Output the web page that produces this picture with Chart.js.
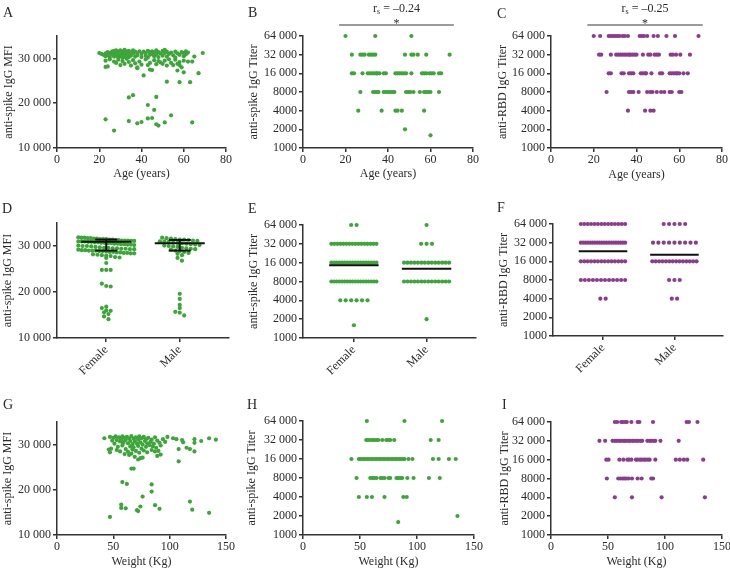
<!DOCTYPE html>
<html>
<head>
<meta charset="utf-8">
<script src="https://cdn.jsdelivr.net/npm/chart.js@4/dist/chart.umd.min.js"></script>
<style>
  body { margin: 0; background: #fff; width: 730px; height: 569px; position: relative; overflow: hidden; }
  canvas { position: absolute; }
</style>
</head>
<body>
<script>
// tick labels / categories
const ageTicks = [0, 20, 40, 60, 80];
const weightTicks = [0, 50, 100, 150];
const mfiTicks = [10000, 20000, 30000];
const titerTicks = [1000, 2000, 4000, 8000, 16000, 32000, 64000];
const sexes = ['Female', 'Male'];
const titerLevels = [64000, 32000, 16000, 8000, 4000, 2000, 1600];

// A: age vs anti-spike IgG MFI  [age, MFI]
const ageMfi = [
  [20,31200],[21,31000],[22,30800],[23,31100],[23,30500],[24,31400],[24,30700],[25,31200],[25,30300],[26,31500],
  [26,30900],[27,31700],[27,31000],[27,30400],[28,31300],[28,31800],[28,30600],[29,31500],[29,30900],[29,30200],
  [30,31800],[30,31100],[30,30500],[31,31600],[31,30800],[31,30100],[32,31900],[32,31200],[32,30400],[33,31500],
  [33,30800],[34,31700],[34,31000],[34,30300],[35,31400],[35,30600],[36,31800],[36,31100],[37,31500],[37,30400],
  [38,31200],[38,30700],[39,31600],[40,31000],[40,30300],[41,31500],[42,31200],[42,30600],[43,31700],[43,30200],
  [44,31400],[44,30800],[45,31600],[45,31000],[46,31300],[46,30500],[47,31800],[47,30900],[48,31400],[48,30300],
  [49,31100],[50,31700],[50,30600],[51,31900],[51,31200],[52,31500],[52,30400],[53,31000],[54,31300],[55,30700],
  [56,31500],[56,30200],[57,31100],[58,30800],[59,31400],[60,31200],[60,30500],[61,31600],[61,30900],[62,31300],
  [65,30400],[69,31200],
  [23,29500],[24,28200],[23,28100],[25,29800],[27,29300],[28,29000],[29,29700],[30,28500],[31,29400],[32,28800],
  [33,29900],[34,29200],[35,28400],[36,29600],[37,28900],[38,28000],[38,27800],[39,29300],[40,28600],[42,29800],
  [43,28500],[44,27500],[45,27400],[44,29000],[46,29600],[47,28700],[48,29400],[49,29100],[50,28800],[51,29500],
  [52,28400],[53,29800],[54,29000],[55,28500],[56,29700],[57,27300],[57,28800],[58,29200],[59,28000],[60,29500],
  [62,29300],[64,29300],[58,28500],
  [41,26200],[60,26900],[67,26700],[52,24800],[58,24700],[63,24700],
  [23,16400],[27,13900],[34,21300],[36,21800],[47,21400],[43,19600],[46,18500],[34,16000],[38,15500],[40,15800],
  [43,16600],[45,16700],[47,15300],[48,15000],[51,15700],[54,17300],[64,15700]
];

// B: age vs anti-spike IgG titer  [titer, ages]
const spikeByAge = [
  [64000, [20, 34, 51]],
  [32000, [23, 27, 28, 29, 31, 32, 33, 34, 48, 51, 52, 54, 58, 69]],
  [16000, [23, 24, 28, 30.5, 31.5, 32.5, 33.5, 34.5, 35, 36, 38, 39, 43.5, 44.5, 45.5, 46.5, 47.5, 48.5, 51, 56, 57, 58, 59.5, 60.5, 61.5, 64, 65]],
  [8000, [27, 33, 34, 35, 35.5, 38, 39, 40, 41, 42, 43, 48.5, 49.5, 50.5, 52, 55, 57, 58, 59, 60, 64]],
  [4000, [26, 37, 43.5, 44.5, 46.5, 57]],
  [2000, [48]],
  [1600, [60]]
];

// C: age vs anti-RBD IgG titer
const rbdByAge = [
  [64000, [20, 23, 27, 28, 29, 30, 31, 32, 33.5, 34.5, 36, 41.5, 42.5, 43.5, 45, 48, 50, 54, 58, 69]],
  [32000, [22.5, 23.5, 28, 30.5, 31.5, 32.5, 33.5, 34.5, 35.5, 36.5, 37, 38, 39, 40, 43, 45.5, 46.5, 48.5, 49.5, 50.5, 56, 57, 58.5, 60.5, 65]],
  [16000, [27, 28, 33, 34, 36.5, 37.5, 38.5, 42, 43, 44, 44.5, 47, 51, 52, 55.5, 56.5, 57.5, 58.5, 59, 60, 62, 64]],
  [8000, [26, 36.5, 37.5, 38.5, 41, 45, 46.5, 47.5, 49.5, 51.5, 53, 55.5, 56.5, 60, 61]],
  [4000, [36, 44, 46.5, 48]]
];

// D: MFI by sex
const mfiFemale = [31900,31800,31800,31700,31700,31600,31600,31500,31500,31500,31400,31400,31300,31300,31200,31200,31200,
  31100,31100,31000,31000,31000,30900,30900,30800,30800,30700,30700,30600,30600,30500,30500,30400,30400,30300,30300,
  30200,30100,30000,30000,29900,29800,29700,29600,29600,29500,29500,29400,29400,29300,29300,29200,29100,29100,29000,
  29000,29000,28900,28900,28800,28700,28700,28600,28600,28500,28500,28400,28400,28200,28100,28000,27900,27800,27600,
  27500,27400,26300,24800,24800,24800,21800,21300,21200,16800,16500,16000,15900,15600,15200,14700,14100];
const mfiMale = [31800,31700,31600,31500,31400,31400,31300,31200,31100,31000,31000,30900,30800,30700,30600,30500,30400,
  30300,30200,30100,30000,29900,29800,29600,29500,29400,29300,29200,29000,28900,28700,28500,28300,28000,27400,26800,
  19600,18500,17200,16500,15700,15500,14900];
const mfiMedian = [30900, 30600];
const mfiQ1 = [29000, 29000];
const mfiQ3 = [31400, 31300];

// E, F: counts per titer level (titerLevels order)
const spikeFemaleCounts = [2, 16, 18, 18, 6, 0, 1];
const spikeMaleCounts = [1, 3, 14, 14, 0, 1, 0];
const spikeMean = [14600, 12800];
const rbdFemaleCounts = [14, 20, 14, 12, 2, 0, 0];
const rbdMaleCounts = [5, 9, 14, 3, 2, 0, 0];
const rbdMean = [23200, 20500];

// G: weight vs MFI  [kg, MFI]
const weightMfi = [
  [42,31400],[47,31700],[49,30900],[50,31500],[51,30200],[52,31800],[53,31000],[54,29500],[55,31600],[56,30700],
  [57,31200],[58,29800],[58,31800],[59,30400],[60,31500],[61,29000],[61,31000],[62,31700],[63,30300],[63,28400],
  [64,31400],[65,29600],[65,30800],[66,31900],[67,30100],[67,28900],[68,31300],[68,29400],[69,30700],[70,31600],
  [70,28600],[71,30200],[72,31100],[72,29700],[73,31800],[73,28200],[74,30500],[75,31400],[75,29100],[76,30000],
  [77,31700],[77,28700],[78,30800],[79,29500],[79,31200],[80,28300],[80,30300],[81,31500],[82,29900],[83,30600],
  [84,28800],[84,31100],[85,29600],[86,30200],[87,28500],[87,31600],[88,29300],[89,30900],[90,28600],[91,30400],
  [92,29800],[94,31200],[96,30600],[98,31700],[46,28900],[47,28300],[48,29100],[56,28500],[60,27900],[64,27700],
  [66,28000],[69,27300],[72,26700],[74,27000],[76,27100],[89,27500],[92,27800],[58,30600],[53,28800],
  [103,31400],[106,31200],[111,31000],[112,30500],[108,29000],[115,29300],[118,29000],[122,31200],[122,30400],
  [122,28500],[128,30800],[135,31400],[141,31100],[108,26300],
  [66,24700],[68,24700],
  [47,14000],[58,21700],[62,21300],[57,16700],[57,16000],[61,15900],[71,15500],[72,15300],[74,16300],[76,18500],
  [84,19600],[84,21200],[87,16600],[91,15800],[118,17400],[120,15600],[135,14900]
];

// H: weight vs anti-spike IgG titer
const spikeByWeight = [
  [64000, [56, 89, 122]],
  [32000, [55.5, 57, 59, 61, 62.5, 64.5, 66, 69.5, 73, 75, 76.5, 80, 112, 119]],
  [16000, [42.5, 49, 50.5, 52.5, 54, 56, 57.5, 59.5, 61, 63, 64.5, 66.5, 68, 70, 71.5, 73.5, 75, 77, 78.5, 80.5, 82, 84, 85.5, 87.5, 89, 92.5, 96, 114, 119, 128, 134]],
  [8000, [47, 59, 61, 62.5, 64.5, 68, 69.5, 71.5, 75, 76.5, 82, 83.5, 85.5, 87, 91.5, 97, 110.5, 120]],
  [4000, [49, 56, 60.5, 71.5, 88, 91]],
  [2000, [135.5]],
  [1600, [83.5]]
];

// I: weight vs anti-RBD IgG titer
const rbdByWeight = [
  [64000, [56, 58, 61.5, 63, 65, 66.5, 70.5, 76, 77.5, 89.5, 119, 121, 128.5]],
  [32000, [42.5, 47.5, 54, 56, 57.5, 59.5, 61, 63, 64.5, 66, 68, 69.5, 71.5, 73, 75, 76.5, 78.5, 80, 84.5, 86.5, 88, 90, 91.5, 96, 112]],
  [16000, [48.5, 50.5, 60, 63.5, 67, 68.5, 70.5, 74.5, 76, 78, 79.5, 81.5, 83, 85, 86.5, 91.5, 109.5, 113, 116.5, 119.5, 133.5]],
  [8000, [49, 59, 61, 63, 64.5, 66, 68, 71, 76, 79.5, 88, 89.5]],
  [4000, [56, 71, 97, 135]]
];

const green = '#3da639';
const purple = '#8c3b8e';
const axisColor = '#333';
const textColor = '#2a2a2a';

Chart.defaults.font.family = '"Liberation Serif", "Times New Roman", serif';
Chart.defaults.font.size = 12;

const fmt = v => v >= 10000 ? String(v).replace(/(\d)(?=(\d{3})+$)/, '$1 ') : String(v);

const pairs = arr => arr.map(([x, y]) => ({ x, y }));
const levelPoints = arr => arr.flatMap(([y, xs]) => xs.map(x => ({ x, y })));
const expand = counts => titerLevels.flatMap((lv, i) => Array(counts[i]).fill(lv));

// dot-plot layout: values in the same band are spread sideways around the category
function swarm(values, center, binSize, step, maxHalf) {
  const bins = {};
  values.forEach(v => {
    const k = Math.round(v / binSize);
    (bins[k] = bins[k] || []).push(v);
  });
  const pts = [];
  Object.values(bins).forEach(vals => {
    const n = vals.length;
    const s = n > 1 ? Math.min(step, 2 * maxHalf / (n - 1)) : 0;
    vals.forEach((v, i) => pts.push({ x: center + (i - (n - 1) / 2) * s, y: v }));
  });
  return pts;
}

const dots = (data, color) => ({ data, backgroundColor: color, borderWidth: 0, pointRadius: 2.1, clip: false });
const seg = (x0, x1, y0, y1) => ({
  data: [{ x: x0, y: y0 }, { x: x1, y: y1 }],
  showLine: true, borderColor: '#111', borderWidth: 2, pointRadius: 0, clip: false
});

const panelText = {
  id: 'panelText',
  afterDraw(chart, args, o) {
    const ctx = chart.ctx;
    ctx.save();
    ctx.fillStyle = textColor;
    ctx.textBaseline = 'alphabetic';
    ctx.textAlign = 'left';
    ctx.font = '14px "Liberation Serif"';
    ctx.fillText(o.letter, o.lx, o.ly);
    if (o.rs) {
      const xs = chart.scales.x;
      const x0 = xs.getPixelForValue(o.bracket[0]);
      const x1 = xs.getPixelForValue(o.bracket[1]);
      const mid = (x0 + x1) / 2;
      ctx.font = '12px "Liberation Serif"';
      const w1 = ctx.measureText('r').width;
      const rest = ' = ' + o.rs;
      const w3 = ctx.measureText(rest).width;
      ctx.font = '8px "Liberation Serif"';
      const w2 = ctx.measureText('s').width;
      let x = mid - (w1 + w2 + w3) / 2;
      ctx.font = '12px "Liberation Serif"';
      ctx.fillText('r', x, 12);
      x += w1;
      ctx.font = '8px "Liberation Serif"';
      ctx.fillText('s', x, 14);
      x += w2;
      ctx.font = '12px "Liberation Serif"';
      ctx.fillText(rest, x, 12);
      ctx.strokeStyle = '#7a7a7a';
      ctx.lineWidth = 1.5;
      ctx.beginPath();
      ctx.moveTo(x0, 25);
      ctx.lineTo(x1, 25);
      ctx.stroke();
      ctx.textAlign = 'center';
      ctx.fillText('*', mid, 27);
    }
    ctx.restore();
  }
};

function makePanel(p) {
  const cv = document.createElement('canvas');
  cv.width = p.w;
  cv.height = p.h;
  cv.style.left = p.x + 'px';
  cv.style.top = p.y + 'px';
  document.body.appendChild(cv);

  const log = p.yLog;
  const cat = !!p.sex;
  new Chart(cv, {
    type: 'scatter',
    data: { datasets: p.datasets },
    options: {
      responsive: false,
      animation: false,
      events: [],
      layout: { padding: { top: p.top, right: p.right, left: 0, bottom: 0 } },
      plugins: {
        legend: { display: false },
        tooltip: { enabled: false },
        panelText: { letter: p.letter, lx: p.lx, ly: p.ly, rs: p.rs, bracket: p.bracket }
      },
      scales: {
        x: {
          type: 'linear',
          min: p.xMin, max: p.xMax,
          afterBuildTicks: s => { s.ticks = p.xTicks.map(v => ({ value: v })); },
          afterFit: s => { s.height = p.xh; s.paddingLeft = 0; s.paddingRight = 0; },
          border: { display: true, color: axisColor, width: 1.5 },
          grid: { drawOnChartArea: false, drawTicks: true, tickLength: 4, color: axisColor, lineWidth: 1.5 },
          ticks: {
            color: textColor, padding: 1, autoSkip: false,
            minRotation: cat ? 45 : 0, maxRotation: cat ? 45 : 0,
            callback: v => cat ? sexes[v - 1] : v
          },
          title: p.xTitle
            ? { display: true, text: p.xTitle, color: textColor, padding: { top: 0, bottom: p.xPad } }
            : { display: false }
        },
        y: {
          type: log ? 'logarithmic' : 'linear',
          min: log ? 1000 : 10000,
          max: log ? 64000 : 35000,
          afterBuildTicks: s => { s.ticks = (log ? titerTicks : mfiTicks).map(v => ({ value: v })); },
          afterFit: s => { s.width = p.yw; s.paddingTop = 0; s.paddingBottom = 0; },
          border: { display: true, color: axisColor, width: 1.5 },
          grid: { drawOnChartArea: false, drawTicks: true, tickLength: 4, color: axisColor, lineWidth: 1.5 },
          ticks: { color: textColor, padding: 2, autoSkip: false, callback: v => fmt(v) },
          title: { display: true, text: p.yTitle, color: textColor, padding: { top: p.tPad, bottom: 0 } }
        }
      }
    },
    plugins: [panelText]
  });
}

const ageAxis = { xMin: 0, xMax: 80, xTicks: ageTicks, xTitle: 'Age (years)' };
const weightAxis = { xMin: 0, xMax: 150, xTicks: weightTicks, xTitle: 'Weight (Kg)' };
const sexAxis = { sex: true, xMin: 0.33, xMax: 2.67, xTicks: [1, 2] };

// row 1
makePanel({ ...ageAxis, x: 0, y: 0, w: 240, h: 190, yw: 57, right: 14, top: 36, xh: 42, xPad: 9, tPad: 2,
  letter: 'A', lx: 3, ly: 17, yTitle: 'anti-spike IgG MFI',
  datasets: [dots(pairs(ageMfi), green)] });
makePanel({ ...ageAxis, x: 240, y: 0, w: 250, h: 190, yw: 63, right: 17, top: 36, xh: 42, xPad: 9, tPad: 7,
  letter: 'B', lx: 8, ly: 17, yTitle: 'anti-spike IgG Titer', yLog: true, rs: '–0.24', bracket: [17, 71],
  datasets: [dots(levelPoints(spikeByAge), green)] });
makePanel({ ...ageAxis, x: 480, y: 0, w: 250, h: 190, yw: 71, right: 8, top: 36, xh: 42, xPad: 8, tPad: 16,
  letter: 'C', lx: 17, ly: 18, yTitle: 'anti-RBD IgG Titer', yLog: true, rs: '–0.25', bracket: [17, 71],
  datasets: [dots(levelPoints(rbdByAge), purple)] });

// row 2
const dSets = [];
[0, 1].forEach(i => {
  const c = i + 1;
  dSets.push(seg(c - 0.34, c + 0.34, mfiMedian[i], mfiMedian[i]));
  dSets.push(seg(c, c, mfiQ1[i], mfiQ3[i]));
  dSets.push(seg(c - 0.15, c + 0.15, mfiQ1[i], mfiQ1[i]));
  dSets.push(seg(c - 0.15, c + 0.15, mfiQ3[i], mfiQ3[i]));
});
dSets.push(dots(swarm(mfiFemale, 1, 900, 0.06, 0.38), green));
dSets.push(dots(swarm(mfiMale, 2, 900, 0.06, 0.36), green));
makePanel({ ...sexAxis, x: 0, y: 190, w: 240, h: 190, yw: 57, right: 11, top: 33, xh: 42, tPad: 1,
  letter: 'D', lx: 2, ly: 23, yTitle: 'anti-spike IgG MFI', datasets: dSets });

makePanel({ ...sexAxis, xMin: 0.3, xMax: 2.68, x: 240, y: 190, w: 240, h: 190, yw: 63, right: 3, top: 35, xh: 42, tPad: 7,
  letter: 'E', lx: 8, ly: 23, yTitle: 'anti-spike IgG Titer', yLog: true,
  datasets: [
    seg(0.66, 1.34, spikeMean[0], spikeMean[0]),
    seg(1.66, 2.34, spikeMean[1], spikeMean[1]),
    dots(swarm(expand(spikeFemaleCounts), 1, 100, 0.075, 0.31), green),
    dots(swarm(expand(spikeMaleCounts), 2, 100, 0.075, 0.31), green)
  ] });

makePanel({ ...sexAxis, xMin: 0.3, xMax: 2.68, x: 480, y: 190, w: 250, h: 190, yw: 73, right: 7, top: 34, xh: 44, tPad: 17,
  letter: 'F', lx: 17, ly: 22, yTitle: 'anti-RBD IgG Titer', yLog: true,
  datasets: [
    seg(0.66, 1.34, rbdMean[0], rbdMean[0]),
    seg(1.66, 2.34, rbdMean[1], rbdMean[1]),
    dots(swarm(expand(rbdFemaleCounts), 1, 100, 0.075, 0.31), purple),
    dots(swarm(expand(rbdMaleCounts), 2, 100, 0.075, 0.31), purple)
  ] });

// row 3
makePanel({ ...weightAxis, x: 0, y: 380, w: 240, h: 189, yw: 57, right: 14, top: 42, xh: 34, xPad: 0, tPad: 1,
  letter: 'G', lx: 3, ly: 29, yTitle: 'anti-spike IgG MFI',
  datasets: [dots(pairs(weightMfi), green)] });
makePanel({ ...weightAxis, x: 240, y: 380, w: 250, h: 189, yw: 63, right: 16, top: 41, xh: 34, xPad: 0, tPad: 5,
  letter: 'H', lx: 7, ly: 29, yTitle: 'anti-spike IgG Titer', yLog: true,
  datasets: [dots(levelPoints(spikeByWeight), green)] });
makePanel({ ...weightAxis, x: 480, y: 380, w: 250, h: 189, yw: 71, right: 8, top: 42, xh: 34, xPad: 0, tPad: 18,
  letter: 'I', lx: 22, ly: 29, yTitle: 'anti-RBD IgG Titer', yLog: true,
  datasets: [dots(levelPoints(rbdByWeight), purple)] });
</script>
</body>
</html>
